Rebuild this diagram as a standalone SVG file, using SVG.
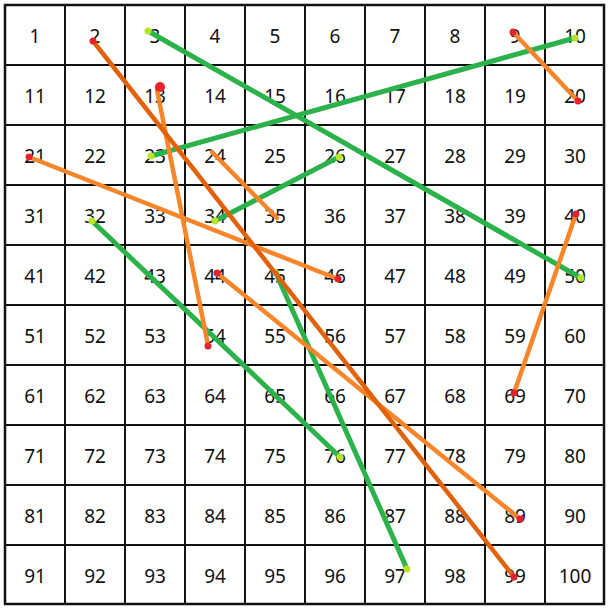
<svg xmlns="http://www.w3.org/2000/svg" width="610" height="610" viewBox="0 0 610 610">
<style>
.g{stroke:#111;stroke-width:2;fill:none}
.n{font-family:"Noto Sans","DejaVu Sans",sans-serif;font-size:19px;fill:#111;text-anchor:middle}
.lad{stroke:#2cb24a;stroke-width:5;stroke-linecap:round}
.sn{stroke:#f7852a;stroke-width:4.5;stroke-linecap:round}
.sd{stroke:#e2620c;stroke-width:4.5;stroke-linecap:round}
.top{fill:#b8e428}
.bot{fill:#e8222c}
</style>
<rect width="610" height="610" fill="#fff"/>
<g id="grid" class="g">
<path d="M65 5V605M125 5V605M185 5V605M245 5V605M305 5V605M365 5V605M425 5V605M485 5V605M545 5V605M5 65H605M5 125H605M5 185H605M5 245H605M5 305H605M5 365H605M5 425H605M5 485H605M5 545H605"/>
<rect x="5" y="5" width="599" height="599" stroke-width="2.5"/>
</g>
<g id="numbers" class="n">
<text x="35" y="42.5">1</text><text x="95" y="42.5">2</text><text x="155" y="42.5">3</text><text x="215" y="42.5">4</text><text x="275" y="42.5">5</text><text x="335" y="42.5">6</text><text x="395" y="42.5">7</text><text x="455" y="42.5">8</text><text x="515" y="42.5">9</text><text x="575" y="42.5">10</text>
<text x="35" y="102.5">11</text><text x="95" y="102.5">12</text><text x="155" y="102.5">13</text><text x="215" y="102.5">14</text><text x="275" y="102.5">15</text><text x="335" y="102.5">16</text><text x="395" y="102.5">17</text><text x="455" y="102.5">18</text><text x="515" y="102.5">19</text><text x="575" y="102.5">20</text>
<text x="35" y="162.5">21</text><text x="95" y="162.5">22</text><text x="155" y="162.5">23</text><text x="215" y="162.5">24</text><text x="275" y="162.5">25</text><text x="335" y="162.5">26</text><text x="395" y="162.5">27</text><text x="455" y="162.5">28</text><text x="515" y="162.5">29</text><text x="575" y="162.5">30</text>
<text x="35" y="222.5">31</text><text x="95" y="222.5">32</text><text x="155" y="222.5">33</text><text x="215" y="222.5">34</text><text x="275" y="222.5">35</text><text x="335" y="222.5">36</text><text x="395" y="222.5">37</text><text x="455" y="222.5">38</text><text x="515" y="222.5">39</text><text x="575" y="222.5">40</text>
<text x="35" y="282.5">41</text><text x="95" y="282.5">42</text><text x="155" y="282.5">43</text><text x="215" y="282.5">44</text><text x="275" y="282.5">45</text><text x="335" y="282.5">46</text><text x="395" y="282.5">47</text><text x="455" y="282.5">48</text><text x="515" y="282.5">49</text><text x="575" y="282.5">50</text>
<text x="35" y="342.5">51</text><text x="95" y="342.5">52</text><text x="155" y="342.5">53</text><text x="215" y="342.5">54</text><text x="275" y="342.5">55</text><text x="335" y="342.5">56</text><text x="395" y="342.5">57</text><text x="455" y="342.5">58</text><text x="515" y="342.5">59</text><text x="575" y="342.5">60</text>
<text x="35" y="402.5">61</text><text x="95" y="402.5">62</text><text x="155" y="402.5">63</text><text x="215" y="402.5">64</text><text x="275" y="402.5">65</text><text x="335" y="402.5">66</text><text x="395" y="402.5">67</text><text x="455" y="402.5">68</text><text x="515" y="402.5">69</text><text x="575" y="402.5">70</text>
<text x="35" y="462.5">71</text><text x="95" y="462.5">72</text><text x="155" y="462.5">73</text><text x="215" y="462.5">74</text><text x="275" y="462.5">75</text><text x="335" y="462.5">76</text><text x="395" y="462.5">77</text><text x="455" y="462.5">78</text><text x="515" y="462.5">79</text><text x="575" y="462.5">80</text>
<text x="35" y="522.5">81</text><text x="95" y="522.5">82</text><text x="155" y="522.5">83</text><text x="215" y="522.5">84</text><text x="275" y="522.5">85</text><text x="335" y="522.5">86</text><text x="395" y="522.5">87</text><text x="455" y="522.5">88</text><text x="515" y="522.5">89</text><text x="575" y="522.5">90</text>
<text x="35" y="582.5">91</text><text x="95" y="582.5">92</text><text x="155" y="582.5">93</text><text x="215" y="582.5">94</text><text x="275" y="582.5">95</text><text x="335" y="582.5">96</text><text x="395" y="582.5">97</text><text x="455" y="582.5">98</text><text x="515" y="582.5">99</text><text x="575" y="582.5">100</text>
</g>
<g id="connectors">
<g id="ladder-3-50"><line class="lad" x1="148" y1="31" x2="581" y2="278"/><circle class="top" cx="148" cy="31" r="3.5"/><circle class="top" cx="581" cy="278" r="3.5"/></g>
<g id="ladder-10-23"><line class="lad" x1="575" y1="38" x2="151" y2="156"/><circle class="top" cx="575" cy="38" r="3.5"/><circle class="top" cx="151" cy="156" r="3.5"/></g>
<g id="ladder-26-34"><line class="lad" x1="339" y1="157" x2="215" y2="221"/><circle class="top" cx="339" cy="157" r="3.5"/><circle class="top" cx="215" cy="221" r="3.5"/></g>
<g id="ladder-32-76"><line class="lad" x1="92" y1="221" x2="340" y2="457"/><circle class="top" cx="92" cy="221" r="3.5"/><circle class="top" cx="340" cy="457" r="3.5"/></g>
<g id="ladder-45-97"><circle class="top" cx="276" cy="273" r="3.5"/><line class="lad" x1="276" y1="273" x2="407" y2="569"/><circle class="top" cx="407" cy="569" r="3.5"/></g>
<g id="snake-24-35"><line class="sn" x1="212" y1="152" x2="277" y2="218"/></g>
<g id="snake-13-54"><line class="sn" x1="157" y1="90" x2="208" y2="345"/><circle class="bot" cx="160" cy="87" r="5"/><circle class="bot" cx="208" cy="346" r="3.5"/></g>
<g id="snake-21-46"><line class="sn" x1="29" y1="157" x2="338" y2="279"/><circle class="bot" cx="29" cy="157" r="3.5"/><circle class="bot" cx="338" cy="279" r="3.5"/></g>
<g id="snake-9-20"><line class="sn" x1="513" y1="32" x2="578" y2="101"/><circle class="bot" cx="513" cy="32" r="3.5"/><circle class="bot" cx="578" cy="101" r="3.5"/></g>
<g id="snake-40-69"><line class="sn" x1="576" y1="214" x2="514" y2="393"/><circle class="bot" cx="576" cy="214" r="3.5"/><circle class="bot" cx="514" cy="393" r="3.5"/></g>
<g id="snake-44-89"><line class="sn" x1="217" y1="273" x2="520" y2="519"/><circle class="bot" cx="217" cy="273" r="3.5"/><circle class="bot" cx="520" cy="519" r="3.5"/></g>
<g id="snake-2-99"><line class="sd" x1="93" y1="41" x2="514" y2="577"/><circle class="bot" cx="93" cy="41" r="3.5"/><circle class="bot" cx="514" cy="577" r="3.5"/></g>
</g>
</svg>
